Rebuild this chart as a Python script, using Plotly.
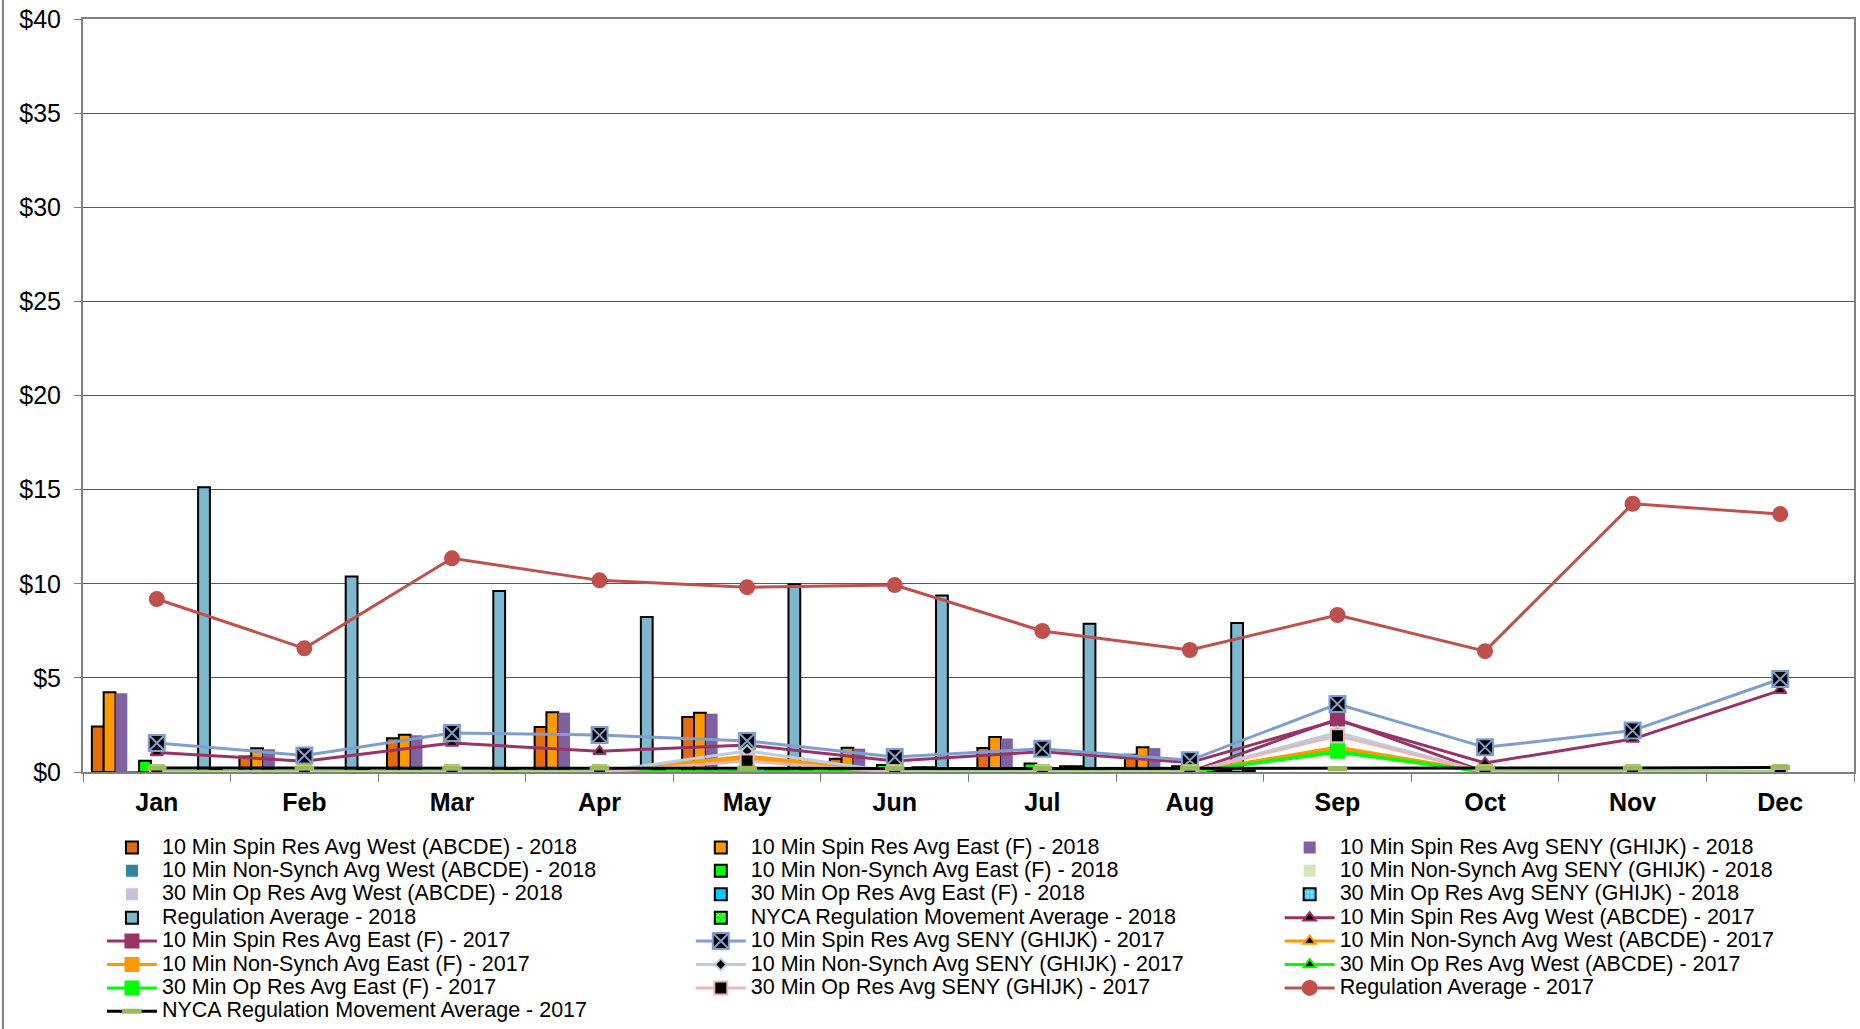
import plotly.graph_objects as go

months = ["Jan", "Feb", "Mar", "Apr", "May", "Jun", "Jul", "Aug", "Sep", "Oct", "Nov", "Dec"]

# 2018 bars (Jan-Aug only)
spin_west_2018 = [2.42, 0.82, 1.79, 2.39, 2.92, 0.70, 1.27, 0.92]
spin_east_2018 = [4.23, 1.26, 1.98, 3.17, 3.15, 1.29, 1.86, 1.31]
spin_seny_2018 = [4.19, 1.21, 1.95, 3.15, 3.10, 1.24, 1.78, 1.27]
nonsynch_west_2018 = [0.02, 0.0, 0.0, 0.0, 0.10, 0.0, 0.0, 0.0]
nonsynch_east_2018 = [0.60, 0.0, 0.0, 0.0, 0.05, 0.37, 0.45, 0.30]
nonsynch_seny_2018 = [0.0, 0.0, 0.0, 0.0, 0.03, 0.0, 0.0, 0.0]
op30_west_2018 = [0.0, 0.0, 0.0, 0.0, 0.03, 0.0, 0.0, 0.0]
op30_east_2018 = [0.0, 0.0, 0.0, 0.0, 0.08, 0.25, 0.30, 0.05]
op30_seny_2018 = [0.0, 0.0, 0.0, 0.0, 0.08, 0.25, 0.30, 0.10]
regulation_2018 = [15.13, 10.39, 9.61, 8.23, 9.98, 9.38, 7.88, 7.91]
nyca_move_2018 = [0.15, 0.12, 0.12, 0.12, 0.12, 0.10, 0.12, 0.08]

# 2017 lines
spin_west_2017 = [1.04, 0.57, 1.54, 1.10, 1.43, 0.58, 1.08, 0.50, 2.75, 0.48, 1.75, 4.34]
spin_east_2017 = [0, 0, 0, 0, 0, 0, 0, 0, 2.81, 0, 0, 0]
spin_seny_2017 = [1.54, 0.88, 2.07, 1.96, 1.65, 0.80, 1.24, 0.62, 3.61, 1.31, 2.20, 4.94]
nonsynch_west_2017 = [0, 0, 0, 0, 0.72, 0, 0, 0, 1.25, 0, 0, 0]
nonsynch_east_2017 = [0, 0, 0, 0, 0.85, 0, 0, 0, 1.33, 0, 0, 0]
nonsynch_seny_2017 = [0, 0, 0, 0, 1.12, 0, 0, 0, 2.10, 0, 0, 0]
op30_west_2017 = [0, 0, 0, 0, 0, 0, 0, 0, 1.05, 0, 0, 0]
op30_east_2017 = [0, 0, 0, 0, 0, 0, 0, 0, 1.10, 0, 0, 0]
op30_seny_2017 = [0, 0, 0, 0, 0.58, 0, 0, 0, 1.93, 0, 0, 0]
regulation_2017 = [9.19, 6.57, 11.35, 10.18, 9.82, 9.93, 7.49, 6.48, 8.34, 6.42, 14.25, 13.70]
nyca_move_2017 = [0.21, 0.20, 0.20, 0.21, 0.20, 0.19, 0.19, 0.20, 0.17, 0.20, 0.21, 0.24]

FONT = "Liberation Sans, Arial, sans-serif"
LEGENDS = ["legend", "legend2", "legend3"]   # three legend columns, filled row by row


def nm(label):
    # legend row height follows legend font size, so the text is sized separately
    return '<span style="font-size:21.5px">' + label + "</span>"


fig = go.Figure()
n = 0

bars = [
    ("10 Min Spin Res Avg West (ABCDE) - 2018", spin_west_2018, "#E46C0A", 2, None),
    ("10 Min Spin Res Avg East (F) - 2018", spin_east_2018, "#FF9900", 2, None),
    ("10 Min Spin Res Avg SENY (GHIJK) - 2018", spin_seny_2018, "#7F60A0", 0, None),
    ("10 Min Non-Synch Avg West (ABCDE) - 2018", nonsynch_west_2018, "#31859C", 0, None),
    ("10 Min Non-Synch Avg East (F) - 2018", nonsynch_east_2018, "#00FF00", 2, None),
    ("10 Min Non-Synch Avg SENY (GHIJK) - 2018", nonsynch_seny_2018, "#D7E4BD", 0, None),
    ("30 Min Op Res Avg West (ABCDE) - 2018", op30_west_2018, "#CCC1DA", 0, None),
    ("30 Min Op Res Avg East (F) - 2018", op30_east_2018, "#00CCFF", 2, None),
    ("30 Min Op Res Avg SENY (GHIJK) - 2018", op30_seny_2018, "#33CCFF", 2, "."),
    ("Regulation Average - 2018", regulation_2018, "#7EB8CF", 2, None),
    ("NYCA Regulation Movement Average - 2018", nyca_move_2018, "#00FF00", 2, "x"),
]
for label, vals, color, lw, pat in bars:
    marker = dict(color=color, line=dict(color="black", width=lw))
    if pat:
        marker["pattern"] = dict(shape=pat, fgcolor="white", bgcolor=color, size=5, solidity=0.4)
    fig.add_trace(go.Bar(x=months[:len(vals)], y=vals, name=nm(label), marker=marker,
                         legend=LEGENDS[n % 3]))
    n += 1

lines = [
    ("10 Min Spin Res Avg West (ABCDE) - 2017", spin_west_2017, "#993366", "triangle-up", "black", "#993366", 11),
    ("10 Min Spin Res Avg East (F) - 2017", spin_east_2017, "#993366", "square", "#993366", "#993366", 13),
    ("10 Min Spin Res Avg SENY (GHIJK) - 2017", spin_seny_2017, "#7F9ED0", "square-x", "black", "#7F9ED0", 16),
    ("10 Min Non-Synch Avg West (ABCDE) - 2017", nonsynch_west_2017, "#FF9900", "triangle-up", "black", "#FF9900", 11),
    ("10 Min Non-Synch Avg East (F) - 2017", nonsynch_east_2017, "#FF9900", "square", "#FF9900", "#FF9900", 13),
    ("10 Min Non-Synch Avg SENY (GHIJK) - 2017", nonsynch_seny_2017, "#B9CDE5", "diamond", "black", "#B9CDE5", 9),
    ("30 Min Op Res Avg West (ABCDE) - 2017", op30_west_2017, "#00FF00", "triangle-up", "black", "#00FF00", 11),
    ("30 Min Op Res Avg East (F) - 2017", op30_east_2017, "#00FF00", "square", "#00FF00", "#00FF00", 13),
    ("30 Min Op Res Avg SENY (GHIJK) - 2017", op30_seny_2017, "#E6B9B8", "square", "black", "#E6B9B8", 13),
    ("Regulation Average - 2017", regulation_2017, "#C0504D", "circle", "#C0504D", "#C0504D", 14),
]
for label, vals, color, sym, fill, edge, size in lines:
    fig.add_trace(go.Scatter(
        x=months, y=vals, name=nm(label), mode="lines+markers",
        line=dict(color=color, width=3),
        marker=dict(symbol=sym, color=fill, size=size, line=dict(color=edge, width=2)),
        legend=LEGENDS[n % 3],
    ))
    n += 1

fig.add_trace(go.Scatter(
    x=months, y=nyca_move_2017, name=nm("NYCA Regulation Movement Average - 2017"),
    mode="lines+markers", line=dict(color="black", width=3),
    marker=dict(symbol="line-ew", size=14, line=dict(color="#9BBB59", width=5)),
    legend=LEGENDS[n % 3],
))

leg = dict(y=-0.078, xanchor="left", yanchor="top", font=dict(family=FONT, size=15.7),
           traceorder="normal", itemwidth=50, bgcolor="rgba(0,0,0,0)")

fig.update_layout(
    width=1860,
    height=1029,
    paper_bgcolor="white",
    plot_bgcolor="white",
    font=dict(family=FONT, color="black"),
    margin=dict(l=83, r=6, t=19, b=257, autoexpand=False),
    barmode="group",
    bargap=0.12,
    bargroupgap=0,
    showlegend=True,
    legend=dict(leg, x=0.0107),
    legend2=dict(leg, x=0.3432),
    legend3=dict(leg, x=0.6757),
    xaxis=dict(
        type="category",
        range=[-0.5, 11.5],
        tickfont=dict(family=FONT, size=25, weight="bold"),
        ticks="outside",
        tickson="boundaries",
        ticklen=8,
        ticklabelstandoff=7,
        tickcolor="#808080",
        showline=True,
        linecolor="#808080",
        linewidth=2,
        mirror=True,
        showgrid=False,
    ),
    yaxis=dict(
        range=[0, 40.001],
        tick0=0,
        dtick=5,
        tickprefix="$",
        tickfont=dict(family=FONT, size=25),
        ticks="outside",
        ticklen=7,
        ticklabelstandoff=8,
        ticklabeloverflow="allow",
        tickcolor="#808080",
        showline=True,
        linecolor="#808080",
        linewidth=2,
        mirror=True,
        showgrid=True,
        gridcolor="#595959",
        gridwidth=1,
        zeroline=False,
    ),
)

# outer chart border on the left edge
fig.add_shape(type="line", xref="paper", yref="paper", x0=-0.0452, x1=-0.0452, y0=-0.3413, y1=1.0252,
              line=dict(color="#808080", width=2))

# drop the browser's default body margin so the figure fills the window exactly
fig.write_html("out.html", config={"displayModeBar": False},
               post_script="document.body.style.margin='0';")
